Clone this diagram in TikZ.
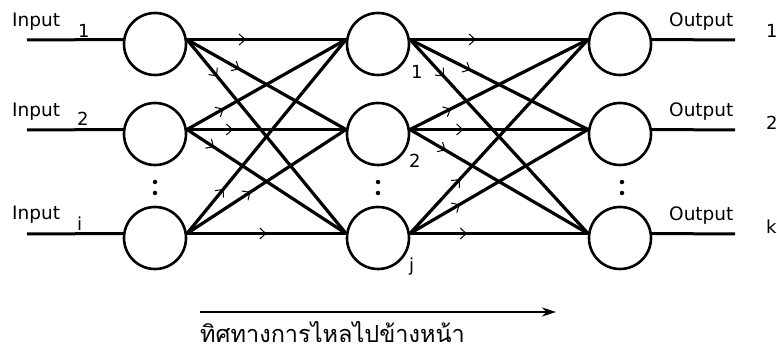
\documentclass[tikz,border=0pt]{standalone}
\usepackage{fontspec}
\setmainfont{DejaVu Sans}
\newfontfamily\thaifont[Script=Thai]{Loma}
\usetikzlibrary{arrows.meta,decorations.markings}
\tikzset{
  neuron/.style={circle,draw,line width=2.6pt,minimum size=62pt,inner sep=0pt},
  conn/.style={line width=3.2pt},
  io/.style={line width=3pt},
  mk/.style={postaction={decorate,decoration={markings,
      mark=at position #1 with {\arrow{Straight Barb[line width=1pt,length=6pt,width=11pt]}}}}},
  lbl/.style={font=\fontsize{18.5}{20}\selectfont,anchor=base west,inner sep=0pt},
  sub/.style={font=\fontsize{18}{20}\selectfont,anchor=base west,inner sep=0pt},
  vdot/.style={circle,fill,inner sep=0pt,minimum size=4.5pt},
}
\begin{document}
\begin{tikzpicture}[x=1pt,y=-1pt]
\useasboundingbox (0,0) rectangle (777,355);
% neurons
\node[neuron] (a1) at (155,44) {};
\node[neuron] (a2) at (155,134) {};
\node[neuron] (a3) at (155,238) {};
\node[neuron] (b1) at (378,44) {};
\node[neuron] (b2) at (378,134) {};
\node[neuron] (b3) at (378,238) {};
\node[neuron] (c1) at (620,44) {};
\node[neuron] (c2) at (620,134) {};
\node[neuron] (c3) at (620,238) {};
% dots
\foreach \x/\n in {155/a,378/b,622/c}{
  \node[vdot] (\n d1) at (\x,182) {};
  \node[vdot] (\n d2) at (\x,193) {};
}
% input / output lines
\coordinate (i1) at (27,40);
\coordinate (i2) at (27,130);
\coordinate (i3) at (27,234);
\coordinate (o1) at (735,40);
\coordinate (o2) at (735,130);
\coordinate (o3) at (735,234);
\foreach \k in {1,2,3}{
  \draw[io] (i\k) -- (a\k.172);
  \draw[io] (c\k.8) -- (o\k);
}
% connections layer 1
\foreach \s/\t/\p in {1/1/0.37,1/2/0.33,1/3/0.19,2/1/0.23,2/2/0.29,2/3/0.17,3/1/0.23,3/2/0.4,3/3/0.5}
  \draw[conn,mk=\p] (a\s.8) -- (b\t.172);
% connections layer 2
\foreach \s/\t/\p in {1/1/0.37,1/2/0.34,1/3/0.19,2/1/0.23,2/2/0.30,2/3/0.2,3/1/0.28,3/2/0.28,3/3/0.32}
  \draw[conn,mk=\p] (b\s.8) -- (c\t.172);
% labels
\node[lbl] (tin1) at (12,27) {Input};
\node[lbl] (tin2) at (12,117) {Input};
\node[lbl] (tin3) at (12,220) {Input};
\node[sub] (sin1) at (78,38) {1};
\node[sub] (sin2) at (77,126) {2};
\node[sub] (sin3) at (77,231) {i};
\node[sub] (sb1) at (411,79) {1};
\node[sub] (sb2) at (409,168) {2};
\node[sub] (sb3) at (409,272) {j};
\node[lbl] (tout1) at (669,27) {Output};
\node[lbl] (tout2) at (669,117) {Output};
\node[lbl] (tout3) at (669,221) {Output};
\node[sub] (so1) at (766,38) {1};
\node[sub] (so2) at (766,130) {2};
\node[sub] (so3) at (766,234) {k};
% direction arrow
\coordinate (fa) at (200,312);
\coordinate (fb) at (556,312);
\draw[line width=2.6pt,-{Stealth[length=14pt,width=9pt]}] (fa) -- (fb);
\node[anchor=base west,inner sep=0pt,font=\thaifont\fontsize{23.5}{25}\selectfont] (thai) at (200,343) {ทิศทางการไหลไปข้างหน้า};
\end{tikzpicture}
\end{document}
